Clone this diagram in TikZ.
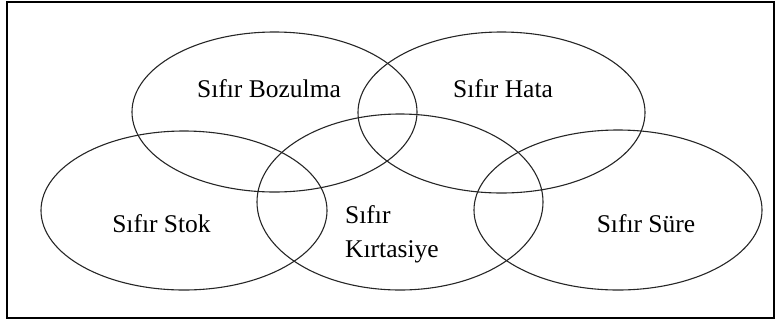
\documentclass[tikz,border=0pt]{standalone}
\usepackage{fontspec}
\setmainfont{Liberation Serif}
\usetikzlibrary{shapes.geometric}
\begin{document}
\begin{tikzpicture}[x=1bp,y=-1bp,
  ring/.style={draw=black!85,line width=1.1bp,ellipse,inner sep=0pt},
  lbl/.style={inner sep=0pt,font=\fontsize{25.5bp}{34bp}\selectfont},
  frame/.style={draw=black,line width=1.6bp}]
\useasboundingbox (0,0) rectangle (777,322);
\draw[frame] (7,2) rectangle (774,318);
\node[ring,minimum width=285bp,minimum height=160bp] (boz) at (274.5,112) {};
\node[ring,minimum width=287bp,minimum height=161bp] (hata) at (501.5,112.5) {};
\node[ring,minimum width=286bp,minimum height=159bp] (stok) at (184,210.5) {};
\node[ring,minimum width=286bp,minimum height=176bp] (kirt) at (400,202) {};
\node[ring,minimum width=288bp,minimum height=160bp] (sure) at (618,210) {};
\node[lbl,anchor=base] (tboz) at (269,97) {Sıfır Bozulma};
\node[lbl,anchor=base] (thata) at (503,97) {Sıfır Hata};
\node[lbl,anchor=base] (tstok) at (161.5,232) {Sıfır Stok};
\node[lbl,anchor=base] (tsure) at (646,232) {Sıfır Süre};
\node[lbl,anchor=north west,align=left] (tkirt) at (345,205.6) {Sıfır\\Kırtasiye};
\end{tikzpicture}
\end{document}
